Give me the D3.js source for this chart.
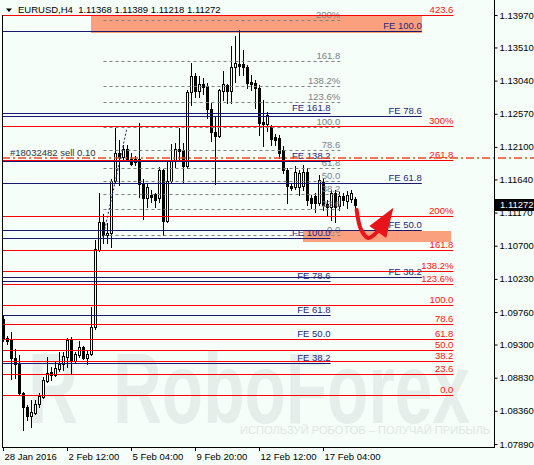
<!DOCTYPE html>
<html>
<head>
<meta charset="utf-8">
<script src="https://cdn.jsdelivr.net/npm/d3@7"></script>
<style>
body { margin: 0; background: #f5fef9; }
svg { display: block; font-family: "Liberation Sans", Arial, sans-serif; }
</style>
</head>
<body>
<svg id="chart" width="534" height="465"></svg>
<script>
/** EURUSD H4 candles (bar 0 = 28 Jan 2016 20:00) */
var opens = [1.0966, 1.0939, 1.0936, 1.0911, 1.0902, 1.0861, 1.0842, 1.0829, 1.0833, 1.0846,
    1.0856, 1.0878, 1.0891, 1.0887, 1.0895, 1.0902, 1.0912, 1.0936, 1.0907, 1.0915,
    1.0927, 1.0911, 1.0917, 1.0955, 1.1064, 1.1104, 1.1085, 1.1088, 1.1162, 1.1201,
    1.1196, 1.1207, 1.1193, 1.1188, 1.1193, 1.1159, 1.1138, 1.1142, 1.1144, 1.1138,
    1.1177, 1.1105, 1.1162, 1.1192, 1.1207, 1.1206, 1.1183, 1.1288, 1.1311, 1.1289,
    1.1299, 1.1296, 1.1264, 1.1231, 1.1226, 1.1289, 1.1298, 1.1289, 1.1323, 1.1328,
    1.1328, 1.1323, 1.1302, 1.1301, 1.1294, 1.1245, 1.1242, 1.1238, 1.1224, 1.1223,
    1.1206, 1.1177, 1.1155, 1.1153, 1.1153, 1.1155, 1.1174, 1.1138, 1.1141, 1.1131,
    1.1160, 1.1129, 1.1125, 1.1145, 1.1126, 1.1141, 1.1133, 1.1136, 1.11368];
var highs = [1.0972, 1.0942, 1.0948, 1.0924, 1.0915, 1.0863, 1.0844, 1.0851, 1.0851, 1.0861,
    1.0884, 1.0912, 1.0898, 1.0905, 1.0919, 1.0919, 1.0939, 1.0941, 1.0919, 1.0935,
    1.0928, 1.0922, 1.0983, 1.1078, 1.1145, 1.1115, 1.1102, 1.1165, 1.1237, 1.1220,
    1.1213, 1.1213, 1.1202, 1.1197, 1.1244, 1.1165, 1.1159, 1.1149, 1.1145, 1.1182,
    1.1179, 1.1192, 1.1214, 1.1216, 1.1237, 1.1216, 1.1291, 1.1329, 1.1315, 1.1311,
    1.1308, 1.1301, 1.1272, 1.1252, 1.1292, 1.1318, 1.1299, 1.1353, 1.1367, 1.1376,
    1.1347, 1.1326, 1.1312, 1.1305, 1.1298, 1.1277, 1.1260, 1.1241, 1.1228, 1.1227,
    1.1211, 1.1180, 1.1158, 1.1183, 1.1177, 1.1185, 1.1180, 1.1142, 1.1145, 1.1170,
    1.1166, 1.1135, 1.1149, 1.1149, 1.1146, 1.1145, 1.1148, 1.1149, 1.11389];
var lows = [1.0935, 1.0931, 1.0881, 1.0883, 1.0860, 1.0809, 1.0823, 1.0813, 1.0832, 1.0842,
    1.0854, 1.0877, 1.0880, 1.0886, 1.0892, 1.0894, 1.0898, 1.0890, 1.0905, 1.0912,
    1.0910, 1.0902, 1.0915, 1.0952, 1.1062, 1.1074, 1.1074, 1.1068, 1.1160, 1.1156,
    1.1192, 1.1192, 1.1185, 1.1185, 1.1139, 1.1108, 1.1125, 1.1132, 1.1125, 1.1132,
    1.1085, 1.1103, 1.1160, 1.1182, 1.1192, 1.1159, 1.1180, 1.1270, 1.1281, 1.1281,
    1.1285, 1.1251, 1.1219, 1.1158, 1.1224, 1.1277, 1.1272, 1.1272, 1.1302, 1.1312,
    1.1312, 1.1294, 1.1291, 1.1265, 1.1227, 1.1211, 1.1232, 1.1213, 1.1213, 1.1194,
    1.1173, 1.1131, 1.1149, 1.1150, 1.1142, 1.1149, 1.1128, 1.1124, 1.1118, 1.1128,
    1.1121, 1.1114, 1.1107, 1.1104, 1.1121, 1.1128, 1.1124, 1.1132, 1.11218];
var closes = [1.0938, 1.0935, 1.0911, 1.0902, 1.0861, 1.0842, 1.0829, 1.0835, 1.0846, 1.0857,
    1.0880, 1.0890, 1.0887, 1.0897, 1.0902, 1.0914, 1.0936, 1.0907, 1.0917, 1.0927,
    1.0911, 1.0917, 1.0955, 1.1065, 1.1104, 1.1085, 1.1088, 1.1162, 1.1201, 1.1196,
    1.1207, 1.1193, 1.1186, 1.1193, 1.1158, 1.1138, 1.1153, 1.1139, 1.1135, 1.1177,
    1.1105, 1.1162, 1.1192, 1.1207, 1.1204, 1.1183, 1.1288, 1.1311, 1.1289, 1.1299,
    1.1295, 1.1264, 1.1231, 1.1226, 1.1291, 1.1299, 1.1289, 1.1323, 1.1329, 1.1325,
    1.1323, 1.1301, 1.1299, 1.1294, 1.1244, 1.1242, 1.1255, 1.1221, 1.1220, 1.1201,
    1.1177, 1.1155, 1.1152, 1.1174, 1.1173, 1.1174, 1.1135, 1.1131, 1.1131, 1.1163,
    1.1128, 1.1125, 1.1145, 1.1125, 1.1141, 1.1135, 1.1142, 1.1145, 1.11272];

/** Time axis, a label every 16 bars */
var timeTicks = [0, 16, 32, 48, 64, 80];
var timeLabels = ['28 Jan 2016', '2 Feb 12:00', '5 Feb 04:00', '9 Feb 20:00', '12 Feb 12:00', '17 Feb 04:00'];

/** Price axis labels */
var priceTicks = ['1.13970', '1.13510', '1.13040', '1.12570', '1.12100', '1.11640', '1.11170',
    '1.10700', '1.10230', '1.09760', '1.09300', '1.08830', '1.08360', '1.07890'];

/** Red fibo levels (0 and 100 prices, ratios, labels) */
var redBase = [1.0858, 1.0985];
var redLevels = [0, 23.6, 38.2, 50, 61.8, 78.6, 100, 123.6, 138.2, 161.8, 200, 261.8, 300, 423.6];
var redLabels = ['0.0', '23.6', '38.2', '50.0', '61.8', '78.6', '100.0', '123.6%', '138.2%', '161.8', '200%', '261.8', '300%', '423.6'];

/** Grey dashed fibo */
var greyBase = [1.1085, 1.1237];
var greyLevels = [0, 23.6, 38.2, 50, 61.8, 78.6, 100, 123.6, 138.2, 161.8, 200];
var greyLabels = ['0.0', '23.6', '38.2', '50.0', '61.8', '78.6', '100.0', '123.6%', '138.2%', '161.8', '200%'];

/** Fibo expansions (navy) */
var feRightBase = [1.0810, 1.1373];
var feRightLevels = [38.2, 50, 61.8, 78.6, 100];
var feRightLabels = ['FE 38.2', 'FE 50.0', 'FE 61.8', 'FE 78.6', 'FE 100.0'];
var feLeftBase = [1.0794, 1.1080];
var feLeftLevels = [38.2, 50, 61.8, 78.6, 100, 138.2, 161.8];
var feLeftLabels = ['FE 38.2', 'FE 50.0', 'FE 61.8', 'FE 78.6', 'FE 100.0', 'FE 138.2', 'FE 161.8'];

/** Open order */
var orderPrice = 1.1194;
var orderLabel = '#18032482 sell 0.10';

/** Dotted trend line: [bar, price] */
var trendPts = [[25, 1.1082], [31, 1.1237]];

/** Forecast arrow: [bar, price] */
var arrowPts = [[88.4, 1.1121], [89.5, 1.1093], [91.3, 1.1081], [93.6, 1.1090]];
var arrowHead = [[97.6, 1.1124], [91.6, 1.1098], [95.8, 1.1081]];

/** Title */
var symbol = 'EURUSD,H4';
var lastOHLC = ['1.11368', '1.11389', '1.11218', '1.11272'];

var width = 534,
    height = 465,
    plotLeft = 2,
    plotRight = 494,
    plotBottom = 447,
    fontSize = 9.5;

var svg = d3.select('#chart');

/** One bar every 4px */
var x = d3.scaleLinear().domain([0, 100]).range([3, 403]);
var y = d3.scaleLinear().domain([1.07890, 1.13970]).range([444, 15]);

function levelPrice(base, r) {
    return base[0] + (base[1] - base[0]) * r / 100;
}

function crisp(v) {
    return Math.floor(v) + 0.5;
}

svg.append('rect')
    .attr('width', width)
    .attr('height', height)
    .attr('fill', '#f5fef9');

// watermark
var wm = svg.append('g').attr('fill', '#e6eeec').attr('font-weight', 'bold');
wm.append('text')
    .attr('x', 28).attr('y', 423)
    .attr('font-size', 100)
    .attr('textLength', 50)
    .attr('lengthAdjust', 'spacingAndGlyphs')
    .text('R');
wm.append('text')
    .attr('x', 113).attr('y', 423)
    .attr('font-size', 100)
    .attr('textLength', 357)
    .attr('lengthAdjust', 'spacingAndGlyphs')
    .text('RoboForex');
wm.append('text')
    .attr('x', 240).attr('y', 434)
    .attr('font-size', 11)
    .attr('font-weight', 'normal')
    .attr('fill', '#e0e7e5')
    .attr('textLength', 250)
    .attr('lengthAdjust', 'spacingAndGlyphs')
    .text('ИСПОЛЬЗУЙ РОБОТОВ – ПОЛУЧАЙ ПРИБЫЛЬ');

// salmon zones
var zones = [
    {x0: 21.9, x1: 104.6, p0: levelPrice(redBase, 423.6), p1: levelPrice(feRightBase, 100)},
    {x0: 74.9, x1: 111.9, p0: levelPrice(feRightBase, 50), p1: 1.1077}
];
svg.selectAll('rect.zone')
    .data(zones)
    .enter()
    .append('rect')
    .attr('class', 'zone')
    .attr('x', function(d) { return Math.round(x(d.x0)); })
    .attr('width', function(d) { return Math.round(x(d.x1) - x(d.x0)); })
    .attr('y', function(d) { return Math.round(y(d.p0)); })
    .attr('height', function(d) { return Math.round(y(d.p1) - y(d.p0)) + 1; })
    .attr('fill', '#faa07e');

// candles
var bars = opens.map(function(o, i) {
    return {i: i, o: o, h: highs[i], l: lows[i], c: closes[i]};
});

var candles = svg.append('g').selectAll('g')
    .data(bars)
    .enter()
    .append('g');

candles.append('line')
    .attr('x1', function(d) { return x(d.i) + 0.5; })
    .attr('x2', function(d) { return x(d.i) + 0.5; })
    .attr('y1', function(d) { return Math.round(y(d.h)); })
    .attr('y2', function(d) { return Math.round(y(d.l)) + 1; })
    .attr('stroke', '#000');

candles.append('rect')
    .attr('x', function(d) { return d.c < d.o ? x(d.i) - 1 : x(d.i) - 0.5; })
    .attr('width', function(d) { return d.c < d.o ? 3 : 2; })
    .attr('y', function(d) {
        var top = Math.round(y(Math.max(d.o, d.c)));
        return d.c < d.o ? top : top + 0.5;
    })
    .attr('height', function(d) {
        var h = Math.round(y(Math.min(d.o, d.c))) - Math.round(y(Math.max(d.o, d.c)));
        return d.c < d.o ? Math.max(1, h + 1) : Math.max(0, h);
    })
    .attr('fill', function(d) { return d.c < d.o ? '#000' : '#fff'; })
    .attr('stroke', function(d) { return d.c < d.o ? 'none' : '#000'; });

/**
 * Draws a set of horizontal levels with their labels, right aligned at the line end.
 */
function drawLevels(base, levels, labels, x0, x1, color, textColor, dash) {
    var g = svg.append('g');
    var data = levels.map(function(r, i) {
        return {y: crisp(y(levelPrice(base, r))), label: labels[i]};
    });
    g.selectAll('line')
        .data(data)
        .enter()
        .append('line')
        .attr('x1', x0)
        .attr('x2', x1)
        .attr('y1', function(d) { return d.y; })
        .attr('y2', function(d) { return d.y; })
        .attr('stroke', color)
        .attr('stroke-dasharray', dash);
    g.selectAll('text')
        .data(data)
        .enter()
        .append('text')
        .attr('x', x1)
        .attr('y', function(d) { return d.y - 2.5; })
        .attr('text-anchor', 'end')
        .attr('font-size', fontSize)
        .attr('fill', textColor)
        .text(function(d) { return d.label; });
}

drawLevels(greyBase, greyLevels, greyLabels, x(25) + 0.5, x(84.3), '#808080', '#808080', '3,3');
drawLevels(feRightBase, feRightLevels, feRightLabels, plotLeft, x(104.7), '#191970', '#262680', null);
drawLevels(feLeftBase, feLeftLevels, feLeftLabels, plotLeft, x(81.9), '#191970', '#262680', null);
drawLevels(redBase, redLevels, redLabels, plotLeft, x(112.6), '#ff0000', '#ff1010', null);

// order line
svg.append('line')
    .attr('x1', plotLeft)
    .attr('x2', width)
    .attr('y1', Math.round(y(orderPrice)))
    .attr('y2', Math.round(y(orderPrice)))
    .attr('stroke', '#f2481c')
    .attr('stroke-width', 1.5)
    .attr('stroke-dasharray', '8,3,2,3');
svg.append('text')
    .attr('x', 10)
    .attr('y', Math.round(y(orderPrice)) - 2)
    .attr('font-size', fontSize)
    .attr('fill', '#333')
    .text(orderLabel);

// dotted trend line
svg.append('line')
    .attr('x1', x(trendPts[0][0]))
    .attr('y1', y(trendPts[0][1]))
    .attr('x2', x(trendPts[1][0]))
    .attr('y2', y(trendPts[1][1]))
    .attr('stroke', '#191970')
    .attr('stroke-dasharray', '2,2');

// forecast arrow
var arrowLine = d3.line()
    .x(function(d) { return x(d[0]); })
    .y(function(d) { return y(d[1]); })
    .curve(d3.curveCatmullRom);
svg.append('path')
    .attr('d', arrowLine(arrowPts))
    .attr('fill', 'none')
    .attr('stroke', '#e8141c')
    .attr('stroke-width', 4)
    .attr('stroke-linecap', 'round');
svg.append('path')
    .attr('d', d3.line()
        .x(function(d) { return x(d[0]); })
        .y(function(d) { return y(d[1]); })(arrowHead) + 'Z')
    .attr('fill', '#e8141c');

// frame
svg.append('line')
    .attr('x1', plotLeft + 0.5).attr('x2', plotLeft + 0.5)
    .attr('y1', 15).attr('y2', plotBottom + 1)
    .attr('stroke', '#000');
svg.append('line')
    .attr('x1', plotLeft).attr('x2', plotRight + 1)
    .attr('y1', plotBottom + 0.5).attr('y2', plotBottom + 0.5)
    .attr('stroke', '#000');
svg.append('line')
    .attr('x1', plotRight + 0.5).attr('x2', plotRight + 0.5)
    .attr('y1', 0).attr('y2', plotBottom + 1)
    .attr('stroke', '#000');

// price axis
var yAxis = d3.axisRight(y)
    .tickValues(priceTicks.map(Number))
    .tickFormat(function(d, i) { return priceTicks[i]; })
    .tickSize(3)
    .tickPadding(2);
var yG = svg.append('g')
    .attr('transform', 'translate(' + (plotRight + 0.5) + ',0)')
    .call(yAxis);
yG.select('.domain').remove();
yG.attr('font-family', null).attr('font-size', fontSize);
yG.selectAll('text').attr('fill', '#000');

// time axis
var xAxis = d3.axisBottom(x)
    .tickValues(timeTicks)
    .tickFormat(function(d, i) { return timeLabels[i]; })
    .tickSize(4)
    .tickPadding(2);
var xG = svg.append('g')
    .attr('transform', 'translate(0,' + plotBottom + ')')
    .call(xAxis);
xG.select('.domain').remove();
xG.attr('font-family', null).attr('font-size', fontSize);
xG.selectAll('text')
    .attr('text-anchor', 'start')
    .attr('x', 1)
    .attr('fill', '#000');

// current price box
var lastY = Math.round(y(closes[closes.length - 1]));
svg.append('rect')
    .attr('x', plotRight + 1)
    .attr('y', lastY - 6)
    .attr('width', width - plotRight - 1)
    .attr('height', 12)
    .attr('fill', '#000');
svg.append('text')
    .attr('x', plotRight + 6)
    .attr('y', lastY)
    .attr('dy', '0.35em')
    .attr('font-size', fontSize)
    .attr('fill', '#fff')
    .text(lastOHLC[3]);

// title
svg.append('path')
    .attr('d', 'M6,8.5L12,8.5L9,12Z')
    .attr('fill', '#000');
svg.append('text')
    .attr('x', 18)
    .attr('y', 13)
    .attr('font-size', fontSize)
    .attr('fill', '#000')
    .style('white-space', 'pre')
    .text(symbol + '  ' + lastOHLC.join(' '));
</script>
</body>
</html>
